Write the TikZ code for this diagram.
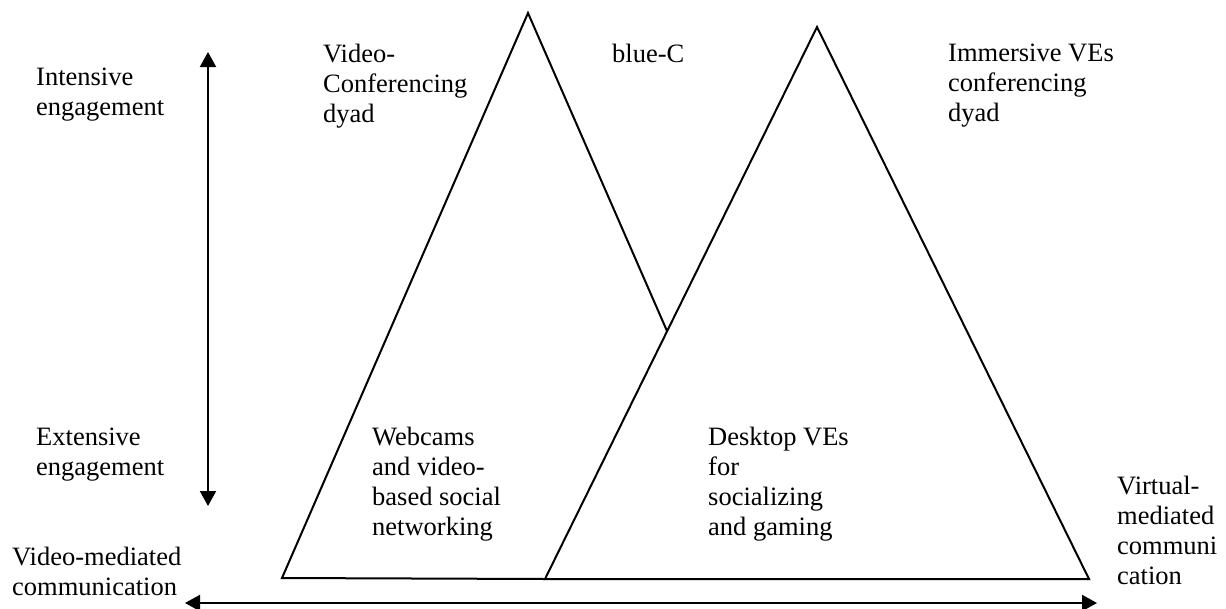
\documentclass[tikz,border=0pt]{standalone}
\usepackage{fontspec}
\setmainfont{Liberation Serif}
\usetikzlibrary{arrows.meta}
\newcommand{\stack}[1]{\begin{tabular}[t]{@{}l@{}}#1\end{tabular}}
\tikzset{
  lbl/.style={anchor=base west, inner sep=0pt, font=\fontsize{26.5}{30}\selectfont},
  edge/.style={line width=2pt, line join=miter},
  axis/.style={line width=2pt, {Triangle[length=15pt,width=16pt]}-{Triangle[length=15pt,width=16pt]}}
}
\begin{document}
\begin{tikzpicture}[x=1pt,y=-1pt]
  \useasboundingbox (0,0) rectangle (1226,608);

  % corner points of the two triangles
  \coordinate (La) at (528,13);
  \coordinate (Lb) at (282,578);
  \coordinate (Ra) at (817,27);
  \coordinate (Rb) at (545,579);
  \coordinate (Rc) at (1089,579);
  \coordinate (X)  at (667,331);

  % video-mediated triangle, partly hidden behind the virtual one
  \draw[edge] (Rb) -- (Lb) -- (La) -- (X);
  % virtual-mediated triangle
  \draw[edge] (Ra) -- (Rb) -- (Rc) -- cycle;

  % engagement axis
  \coordinate (Vt) at (208,52);
  \coordinate (Vb) at (208,506);
  \draw[axis] (Vb) -- (Vt);

  % mediation axis
  \coordinate (Hl) at (185,603);
  \coordinate (Hr) at (1097,603);
  \draw[axis] (Hl) -- (Hr);

  % labels
  \node[lbl] (int) at (36,85)   {\stack{Intensive\\engagement}};
  \node[lbl] (ext) at (36,445)  {\stack{Extensive\\engagement}};
  \node[lbl] (vmc) at (12,565)  {\stack{Video-mediated\\communication}};
  \node[lbl] (vcd) at (323,62)  {\stack{Video-\\Conferencing\\dyad}};
  \node[lbl] (blc) at (612,62)  {blue-C};
  \node[lbl] (ivd) at (948,61)  {\stack{Immersive VEs\\conferencing\\dyad}};
  \node[lbl] (web) at (372,445) {\stack{Webcams\\and video-\\based social\\networking}};
  \node[lbl] (dsk) at (708,445) {\stack{Desktop VEs\\for\\socializing\\and gaming}};
  \node[lbl] (vir) at (1117,494){\stack{Virtual-\\mediated\\communi\\cation}};
\end{tikzpicture}
\end{document}
